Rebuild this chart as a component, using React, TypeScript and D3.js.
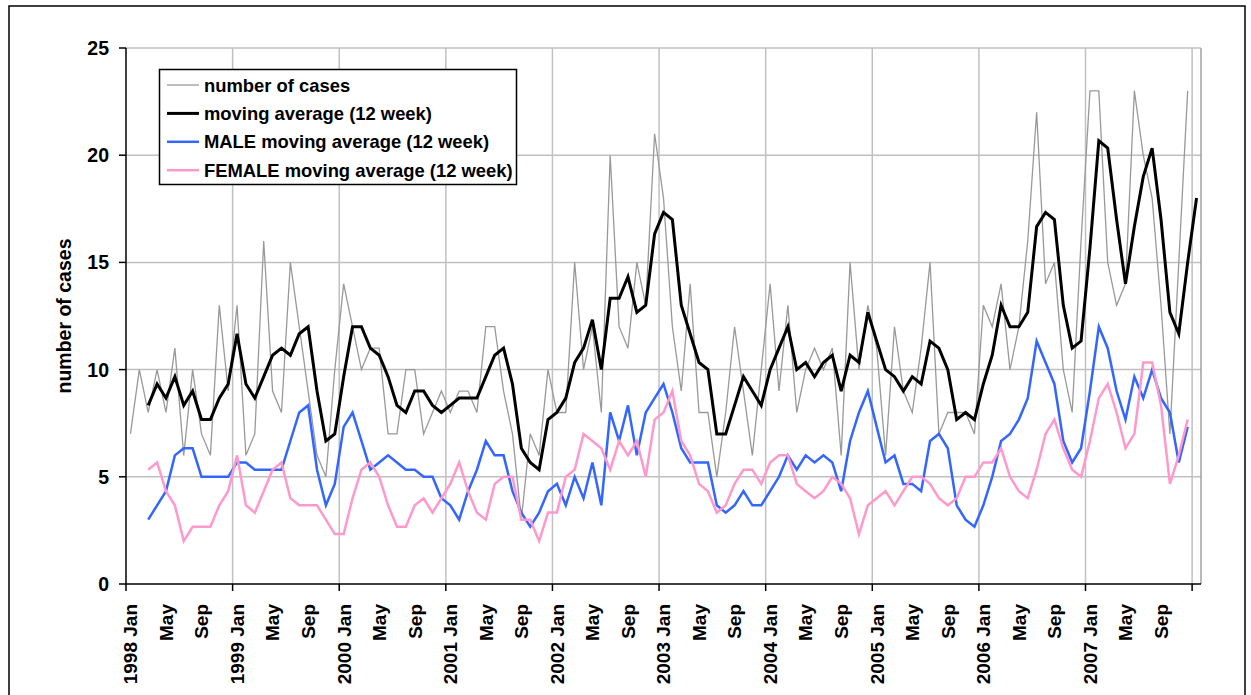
import React from 'react';
import * as d3 from 'd3';

// monthly counts, Jan 1998 .. Dec 2007
const cases = [
  7, 10, 8, 10, 8, 11, 6, 10, 7, 6, 13, 9,
  13, 6, 7, 16, 9, 8, 15, 12, 9, 6, 5, 10,
  14, 12, 10, 11, 11, 7, 7, 10, 10, 7, 8, 9,
  8, 9, 9, 8, 12, 12, 9, 7, 3, 7, 6, 10,
  8, 8, 15, 10, 12, 8, 20, 12, 11, 15, 13, 21,
  18, 12, 9, 14, 8, 8, 5, 8, 12, 9, 6, 10,
  14, 9, 13, 8, 10, 11, 10, 11, 6, 15, 10, 13,
  11, 6, 12, 9, 8, 11, 15, 7, 8, 8, 8, 7,
  13, 12, 14, 10, 12, 16, 22, 14, 15, 10, 8, 16,
  23, 23, 15, 13, 14, 23, 20, 18, 13, 7, 15, 23,
];

// moving average, Jan 1998 .. Jan 2008
const movingAvg = [
  null, null, 8.33, 9.33, 8.67, 9.67, 8.33, 9.0, 7.67, 7.67, 8.67, 9.33,
  11.67, 9.33, 8.67, 9.67, 10.67, 11.0, 10.67, 11.67, 12.0, 9.0, 6.67, 7.0,
  9.67, 12.0, 12.0, 11.0, 10.67, 9.67, 8.33, 8.0, 9.0, 9.0, 8.33, 8.0,
  8.33, 8.67, 8.67, 8.67, 9.67, 10.67, 11.0, 9.33, 6.33, 5.67, 5.33, 7.67,
  8.0, 8.67, 10.33, 11.0, 12.33, 10.0, 13.33, 13.33, 14.33, 12.67, 13.0, 16.33,
  17.33, 17.0, 13.0, 11.67, 10.33, 10.0, 7.0, 7.0, 8.33, 9.67, 9.0, 8.33,
  10.0, 11.0, 12.0, 10.0, 10.33, 9.67, 10.33, 10.67, 9.0, 10.67, 10.33, 12.67,
  11.33, 10.0, 9.67, 9.0, 9.67, 9.33, 11.33, 11.0, 10.0, 7.67, 8.0, 7.67,
  9.33, 10.67, 13.0, 12.0, 12.0, 12.67, 16.67, 17.33, 17.0, 13.0, 11.0, 11.33,
  15.67, 20.67, 20.33, 17.0, 14.0, 16.67, 19.0, 20.33, 17.0, 12.67, 11.67, 15.0,
  18.0,
];

const maleAvg = [
  null, null, 3.0, 3.67, 4.33, 6.0, 6.33, 6.33, 5.0, 5.0, 5.0, 5.0,
  5.67, 5.67, 5.33, 5.33, 5.33, 5.33, 6.67, 8.0, 8.33, 5.33, 3.67, 4.67,
  7.33, 8.0, 6.67, 5.33, 5.67, 6.0, 5.67, 5.33, 5.33, 5.0, 5.0, 4.0,
  3.67, 3.0, 4.33, 5.33, 6.67, 6.0, 6.0, 4.33, 3.33, 2.67, 3.33, 4.33,
  4.67, 3.67, 5.0, 4.0, 5.67, 3.67, 8.0, 6.67, 8.33, 6.0, 8.0, 8.67,
  9.33, 8.0, 6.33, 5.67, 5.67, 5.67, 3.67, 3.33, 3.67, 4.33, 3.67, 3.67,
  4.33, 5.0, 6.0, 5.33, 6.0, 5.67, 6.0, 5.67, 4.33, 6.67, 8.0, 9.0,
  7.33, 5.67, 6.0, 4.67, 4.67, 4.33, 6.67, 7.0, 6.33, 3.67, 3.0, 2.67,
  3.67, 5.0, 6.67, 7.0, 7.67, 8.67, 11.33, 10.33, 9.33, 6.67, 5.67, 6.33,
  9.0, 12.0, 11.0, 9.0, 7.67, 9.67, 8.67, 10.0, 8.67, 8.0, 5.67, 7.33,
];

const femaleAvg = [
  null, null, 5.33, 5.67, 4.33, 3.67, 2.0, 2.67, 2.67, 2.67, 3.67, 4.33,
  6.0, 3.67, 3.33, 4.33, 5.33, 5.67, 4.0, 3.67, 3.67, 3.67, 3.0, 2.33,
  2.33, 4.0, 5.33, 5.67, 5.0, 3.67, 2.67, 2.67, 3.67, 4.0, 3.33, 4.0,
  4.67, 5.67, 4.33, 3.33, 3.0, 4.67, 5.0, 5.0, 3.0, 3.0, 2.0, 3.33,
  3.33, 5.0, 5.33, 7.0, 6.67, 6.33, 5.33, 6.67, 6.0, 6.67, 5.0, 7.67,
  8.0, 9.0, 6.67, 6.0, 4.67, 4.33, 3.33, 3.67, 4.67, 5.33, 5.33, 4.67,
  5.67, 6.0, 6.0, 4.67, 4.33, 4.0, 4.33, 5.0, 4.67, 4.0, 2.33, 3.67,
  4.0, 4.33, 3.67, 4.33, 5.0, 5.0, 4.67, 4.0, 3.67, 4.0, 5.0, 5.0,
  5.67, 5.67, 6.33, 5.0, 4.33, 4.0, 5.33, 7.0, 7.67, 6.33, 5.33, 5.0,
  6.67, 8.67, 9.33, 8.0, 6.33, 7.0, 10.33, 10.33, 8.33, 4.67, 6.0, 7.67,
];

const years = [1998, 1999, 2000, 2001, 2002, 2003, 2004, 2005, 2006, 2007, 2008];
const months = ['Jan', 'Feb', 'Mar', 'Apr', 'May', 'Jun', 'Jul', 'Aug', 'Sep', 'Oct', 'Nov', 'Dec'];
const yTicks = [0, 5, 10, 15, 20, 25];

const legendItems = [
  { label: 'number of cases', color: '#999999', width: 1.3 },
  { label: 'moving average (12 week)', color: '#000000', width: 3 },
  { label: 'MALE moving average (12 week)', color: '#3366ff', width: 2.5 },
  { label: 'FEMALE moving average (12 week)', color: '#ff99cc', width: 2.5 },
];

// Jan 1998 .. Jan 2008 -> 121 categories
const categories: string[] = [];
years.forEach(yr => months.forEach(m => {
  if (categories.length < 121) categories.push(`${yr} ${m}`);
}));

const FONT = '"Liberation Sans", Arial, Helvetica, sans-serif';

const App = () => {
  const left = 126, right = 1201, top = 48, bottom = 584;

  const x = d3.scaleBand<number>().domain(d3.range(categories.length)).range([left, right]).padding(0);
  const y = d3.scaleLinear().domain([0, 25]).range([bottom, top]);
  const cx = (i: number) => x(i)! + x.bandwidth() / 2;

  const line = d3.line<number | null>()
    .defined(d => d != null)
    .x((_, i) => cx(i))
    .y(d => y(d as number));

  const yearStarts = d3.range(0, categories.length, 12);

  const series = [
    { values: cases, ...legendItems[0] },
    { values: movingAvg, ...legendItems[1] },
    { values: maleAvg, ...legendItems[2] },
    { values: femaleAvg, ...legendItems[3] },
  ];

  return (
    <svg width={1251} height={695} style={{ position: 'absolute', left: 0, top: 0, display: 'block', background: '#fff' }}
      fontFamily={FONT}>
      <rect x={9} y={6} width={1236} height={700} fill="none" stroke="#000" strokeWidth={1.5} />

      {/* gridlines */}
      {yTicks.slice(1).map(t => (
        <line key={'h' + t} x1={left} x2={right} y1={y(t)} y2={y(t)} stroke="#c0c0c0" strokeWidth={1.5} />
      ))}
      {yearStarts.slice(1).map(i => (
        <line key={'v' + i} x1={x(i)} x2={x(i)} y1={top} y2={bottom} stroke="#c0c0c0" strokeWidth={1.5} />
      ))}
      <line x1={right} x2={right} y1={top} y2={bottom} stroke="#a0a0a0" strokeWidth={1.5} />

      {/* series */}
      {series.map(s => (
        <path key={s.label} d={line(s.values as (number | null)[]) || ''} fill="none"
          stroke={s.color} strokeWidth={s.width} strokeLinejoin="miter" />
      ))}

      {/* axes */}
      <line x1={left} x2={left} y1={top} y2={bottom} stroke="#000" strokeWidth={1.5} />
      <line x1={left} x2={right} y1={bottom} y2={bottom} stroke="#000" strokeWidth={1.5} />
      {yTicks.map(t => (
        <g key={'yt' + t}>
          <line x1={left - 7} x2={left} y1={y(t)} y2={y(t)} stroke="#000" strokeWidth={1.5} />
          <text x={109} y={y(t)} dy="0.36em" textAnchor="end" fontSize={19.5} fontWeight="bold">{t}</text>
        </g>
      ))}
      {yearStarts.map(i => (
        <line key={'xt' + i} x1={x(i)} x2={x(i)} y1={bottom} y2={bottom + 7} stroke="#000" strokeWidth={1.5} />
      ))}
      {categories.map((c, i) => {
        if (i > 116 || i % 4 !== 0) return null;
        const label = i % 12 === 0 ? c : c.split(' ')[1];
        return (
          <text key={'xl' + i} transform={`translate(${cx(i)},${bottom + 20}) rotate(-90)`} dy="0.36em"
            textAnchor="end" fontSize={19} fontWeight="bold">{label}</text>
        );
      })}
      <text transform={`translate(64,${(top + bottom) / 2}) rotate(-90)`} dy="0.36em" textAnchor="middle"
        fontSize={19.5} fontWeight="bold">number of cases</text>

      {/* legend */}
      <rect x={159.5} y={69.5} width={357} height={115} fill="#fff" stroke="#000" strokeWidth={1.5} />
      {legendItems.map((d, i) => {
        const ly = 85 + i * 28.4;
        return (
          <g key={'lg' + i}>
            <line x1={167} x2={199} y1={ly} y2={ly} stroke={d.color} strokeWidth={d.width} />
            <text x={204} y={ly} dy="0.36em" fontSize={18.4} fontWeight="bold">{d.label}</text>
          </g>
        );
      })}
    </svg>
  );
};

export default App;
